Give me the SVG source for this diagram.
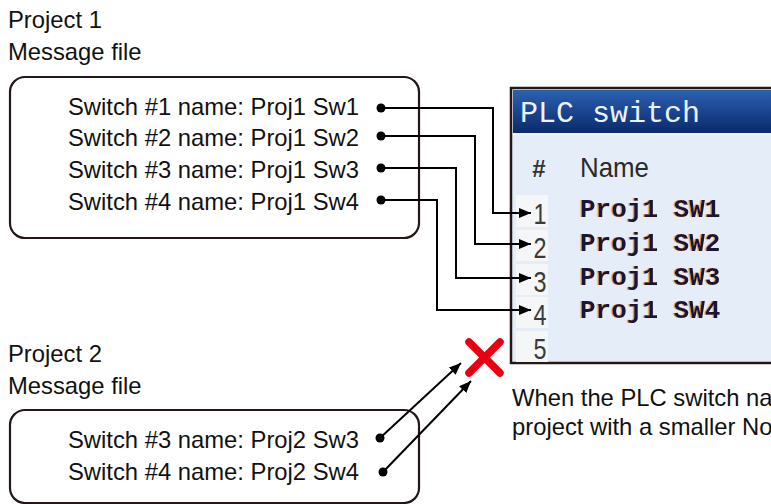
<svg xmlns="http://www.w3.org/2000/svg" width="771" height="504" viewBox="0 0 771 504">
<style>
.lbl{font-family:"Liberation Sans",Arial,sans-serif;font-size:23.8px;fill:#111}
.box{fill:#fff;stroke:#231815;stroke-width:2.2}
.wire{fill:none;stroke:#000;stroke-width:2}
.dot{fill:#000}
.num{font-family:"Liberation Sans",Arial,sans-serif;font-size:30px;fill:#3a3a3a;text-anchor:middle}
.sw{font-family:"Liberation Mono","DejaVu Sans Mono",monospace;font-size:26px;font-weight:bold;fill:#15153a;filter:url(#fringe)}
.cell{fill:#f5f6f7}
</style>
<defs>
<marker id="ah" markerUnits="userSpaceOnUse" markerWidth="12" markerHeight="10" refX="12" refY="5" orient="auto">
<path d="M0,0 L12,5 L0,10 z" fill="#000"/>
</marker>
<linearGradient id="bar" x1="0" y1="0" x2="0" y2="1">
<stop offset="0" stop-color="#2d61b0"/>
<stop offset="0.5" stop-color="#1a4590"/>
<stop offset="1" stop-color="#0b2a68"/>
</linearGradient>
<filter id="fringe" x="-5%" y="-20%" width="110%" height="140%">
<feDropShadow dx="-1.2" dy="0" stdDeviation="0.2" flood-color="#e08a1e" flood-opacity="0.9"/>
</filter>
</defs>

<g id="project1">
<text class="lbl" x="8" y="28">Project 1</text>
<text class="lbl" x="8" y="60">Message file</text>
<rect class="box" x="10" y="77" width="409" height="161" rx="15"/>
<text class="lbl" x="68" y="115">Switch #1 name: Proj1 Sw1</text>
<text class="lbl" x="68" y="146">Switch #2 name: Proj1 Sw2</text>
<text class="lbl" x="68" y="178">Switch #3 name: Proj1 Sw3</text>
<text class="lbl" x="68" y="210">Switch #4 name: Proj1 Sw4</text>
</g>

<g id="project2">
<text class="lbl" x="8" y="362">Project 2</text>
<text class="lbl" x="8" y="394">Message file</text>
<rect class="box" x="10" y="410" width="409" height="93" rx="15"/>
<text class="lbl" x="68" y="448">Switch #3 name: Proj2 Sw3</text>
<text class="lbl" x="68" y="480">Switch #4 name: Proj2 Sw4</text>
</g>

<g id="plc-screen">
<rect x="511" y="88" width="270" height="275" fill="#e5eef8" stroke="#231815" stroke-width="2.5"/>
<rect x="513" y="90" width="260" height="43" fill="url(#bar)"/>
<rect x="513" y="133" width="260" height="2" fill="#f4f7fb"/>
<text x="520" y="122" font-family="'Liberation Mono','DejaVu Sans Mono',monospace" font-size="30" fill="#eef2f8">PLC switch</text>
<text x="539" y="177" font-family="'Liberation Sans',Arial,sans-serif" font-size="24" font-weight="bold" fill="#333" text-anchor="middle">#</text>
<text x="580" y="177" font-family="'Liberation Sans',Arial,sans-serif" font-size="28" fill="#2a2a2a" textLength="69" lengthAdjust="spacingAndGlyphs">Name</text>
<rect class="cell" x="516" y="195" width="32" height="32"/>
<rect class="cell" x="516" y="230" width="32" height="31"/>
<rect class="cell" x="516" y="264" width="32" height="31"/>
<rect class="cell" x="516" y="297" width="32" height="31"/>
<rect class="cell" x="516" y="331" width="32" height="31"/>
<text class="num" x="540" y="224" textLength="13" lengthAdjust="spacingAndGlyphs">1</text>
<text class="num" x="540" y="258" textLength="13" lengthAdjust="spacingAndGlyphs">2</text>
<text class="num" x="540" y="292" textLength="13" lengthAdjust="spacingAndGlyphs">3</text>
<text class="num" x="540" y="325" textLength="13" lengthAdjust="spacingAndGlyphs">4</text>
<text class="num" x="540" y="359" textLength="13" lengthAdjust="spacingAndGlyphs">5</text>
<text class="sw" x="580" y="217">Proj1 SW1</text>
<text class="sw" x="580" y="251">Proj1 SW2</text>
<text class="sw" x="580" y="285">Proj1 SW3</text>
<text class="sw" x="580" y="318">Proj1 SW4</text>
</g>

<g id="reject-mark">
<path d="M469,342 L500,373 M500,342 L469,373" stroke="#e60012" stroke-width="7.5" stroke-linecap="round" fill="none"/>
</g>

<g id="note">
<text class="lbl" x="512" y="406">When the PLC switch na</text>
<text class="lbl" x="512" y="435">project with a smaller No</text>
</g>

<g id="connectors">
<path class="wire" d="M381,108 H493 V213 H531" marker-end="url(#ah)"/>
<path class="wire" d="M381,136 H475 V244 H531" marker-end="url(#ah)"/>
<path class="wire" d="M381,168 H456 V278 H531" marker-end="url(#ah)"/>
<path class="wire" d="M381,200 H437 V310 H531" marker-end="url(#ah)"/>
<path class="wire" d="M380,438 L461,363" marker-end="url(#ah)"/>
<path class="wire" d="M383,472 L471,381" marker-end="url(#ah)"/>
<circle class="dot" cx="381" cy="108" r="4.5"/>
<circle class="dot" cx="381" cy="136" r="4.5"/>
<circle class="dot" cx="381" cy="168" r="4.5"/>
<circle class="dot" cx="381" cy="200" r="4.5"/>
<circle class="dot" cx="380" cy="438" r="4.5"/>
<circle class="dot" cx="383" cy="472" r="4.5"/>
</g>
</svg>
